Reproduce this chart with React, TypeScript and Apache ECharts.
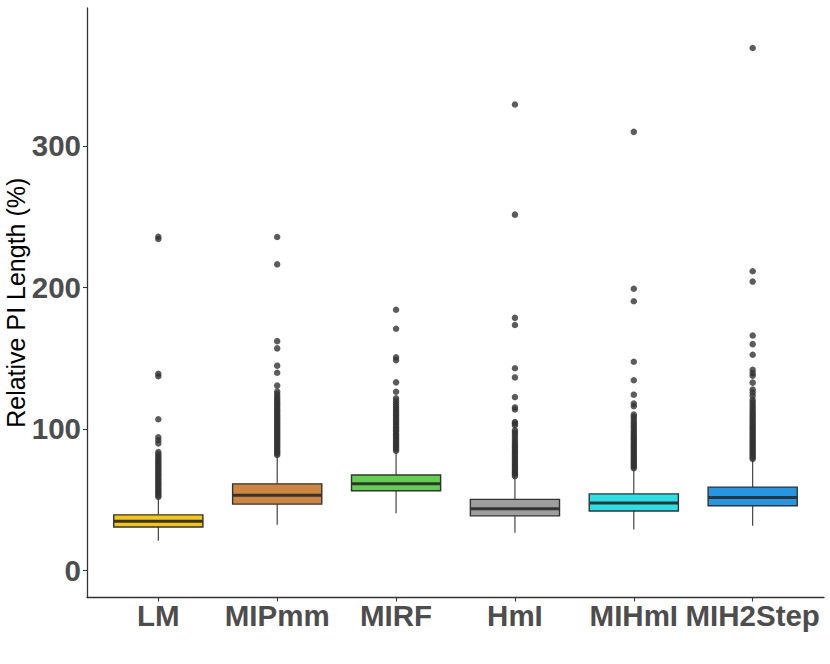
import React, { useEffect, useRef } from "react";
import * as echarts from "echarts";

const categories = ["LM", "MIPmm", "MIRF", "HmI", "MIHmI", "MIH2Step"];
const boxColors = ["#F5C710", "#CD853F", "#61D04F", "#9E9E9E", "#28E2E5", "#2297E6"];

// [lower whisker, Q1, median, Q3, upper whisker]
const boxLM = [21.0, 30.7, 34.7, 39.3, 51.3];
const boxMIPmm = [32.3, 46.9, 53.2, 61.2, 80.9];
const boxMIRF = [40.5, 56.3, 61.2, 67.5, 83.3];
const boxHmI = [26.7, 38.6, 43.6, 50.2, 66.1];
const boxMIHmI = [29.0, 42.0, 47.6, 54.1, 71.4];
const boxMIH2Step = [31.6, 45.7, 51.6, 58.9, 78.4];

const outLM = [52.0, 53.2, 54.5, 55.6, 56.8, 58.0, 59.3, 60.5, 61.7, 63.0, 64.2, 65.4, 66.7, 68.0, 69.1, 70.4, 71.6, 72.9, 74.1, 75.4, 76.6, 77.9, 79.2, 80.5, 82.0, 83.6, 89.8, 92.0, 94.1, 106.8, 137.2, 139.0, 234.2, 235.8];
const outMIPmm = [81.6, 82.8, 84.0, 85.2, 86.5, 87.7, 89.0, 90.2, 91.4, 92.7, 94.0, 95.2, 96.5, 97.7, 99.0, 100.2, 101.5, 102.8, 104.0, 105.3, 106.6, 107.8, 109.1, 110.4, 111.7, 113.0, 114.3, 115.6, 117.0, 118.4, 119.8, 121.3, 122.9, 124.6, 126.4, 130.6, 139.7, 144.7, 156.9, 162.0, 216.3, 235.6];
const outMIRF = [84.6, 85.8, 87.0, 88.2, 89.4, 90.6, 91.9, 93.1, 94.3, 95.6, 96.8, 98.1, 99.3, 100.6, 101.8, 103.1, 104.4, 105.6, 106.9, 108.2, 109.5, 110.8, 112.2, 113.6, 115.0, 116.5, 118.1, 119.8, 121.7, 126.3, 132.9, 148.6, 150.6, 170.8, 184.2];
const outHmI = [66.7, 67.9, 69.1, 70.3, 71.5, 72.8, 74.0, 75.2, 76.5, 77.7, 79.0, 80.2, 81.5, 82.8, 84.1, 85.4, 86.8, 88.2, 89.6, 91.1, 92.7, 94.4, 96.1, 97.6, 99.0, 102.6, 103.9, 104.9, 113.7, 115.2, 122.5, 136.4, 142.9, 173.4, 178.5, 251.4, 329.2];
const outMIHmI = [72.2, 73.4, 74.6, 75.8, 77.0, 78.2, 79.5, 80.7, 81.9, 83.2, 84.4, 85.7, 87.0, 88.2, 89.5, 90.8, 92.1, 93.4, 94.7, 96.1, 97.5, 98.9, 100.4, 101.9, 103.5, 105.1, 106.8, 108.5, 110.1, 116.0, 117.9, 124.2, 134.4, 147.5, 190.2, 199.0, 309.9];
const outMIH2Step = [78.8, 80.0, 81.2, 82.4, 83.6, 84.8, 86.0, 87.3, 88.5, 89.7, 91.0, 92.2, 93.5, 94.7, 96.0, 97.3, 98.6, 99.9, 101.2, 102.5, 103.8, 105.2, 106.6, 108.0, 109.4, 110.9, 112.4, 114.0, 115.6, 117.3, 119.0, 120.6, 123.4, 125.8, 127.8, 132.7, 137.6, 139.4, 141.8, 152.4, 159.9, 166.0, 204.1, 211.4, 369.1];

const yTicks = [0, 100, 200, 300];
const xTicks = [0, 1, 2, 3, 4, 5];

const boxes = [boxLM, boxMIPmm, boxMIRF, boxHmI, boxMIHmI, boxMIH2Step];
const outliers = [outLM, outMIPmm, outMIRF, outHmI, outMIHmI, outMIH2Step];

const FONT = "'Liberation Sans', Arial, Helvetica, sans-serif";
const INK = "#333333";

export default function App() {
  const ref = useRef<HTMLDivElement>(null);
  useEffect(() => {
    if (!ref.current) return;
    const chart = echarts.init(ref.current, undefined, { renderer: "svg" });
    const boxData = boxes.map((b, i) => [i, ...b]);
    const outData: number[][] = [];
    outliers.forEach((arr, i) => arr.forEach((v) => outData.push([i, v])));

    chart.setOption({
      animation: false,
      backgroundColor: "#ffffff",
      grid: { left: 87, right: 6, top: 8, bottom: 66.5, containLabel: false, outerBoundsMode: "none" },
      xAxis: {
        type: "value",
        min: -0.6,
        max: 5.6,
        splitLine: { show: false },
        axisLine: { show: true, onZero: false, lineStyle: { color: INK, width: 1.3 } },
        axisTick: { show: true, customValues: xTicks, length: 4, lineStyle: { color: INK, width: 1.1 } },
        axisLabel: {
          customValues: xTicks,
          formatter: (v: number) => categories[Math.round(v)] ?? "",
          color: "#4D4D4D",
          fontSize: 29.5,
          fontWeight: "bold",
          fontFamily: FONT,
          margin: 3,
        },
      },
      yAxis: {
        type: "value",
        min: -19.1,
        max: 397.4,
        splitLine: { show: false },
        axisLine: { show: true, onZero: false, lineStyle: { color: INK, width: 1.3 } },
        axisTick: { show: true, customValues: yTicks, length: 4, lineStyle: { color: INK, width: 1.1 } },
        axisLabel: {
          customValues: yTicks,
          color: "#4D4D4D",
          fontSize: 29.5,
          fontWeight: "bold",
          fontFamily: FONT,
          margin: 6,
        },
        name: "Relative PI Length (%)",
        nameLocation: "middle",
        nameRotate: 90,
        nameGap: 59,
        nameMoveOverlap: false,
        nameTextStyle: { color: "#000000", fontSize: 25, fontFamily: FONT },
      },
      series: [
        {
          type: "custom",
          data: boxData,
          encode: { x: 0, y: [1, 2, 3, 4, 5] },
          renderItem: (params: any, api: any) => {
            const i = api.value(0);
            const pLow = api.coord([i, api.value(1)]);
            const pQ1 = api.coord([i, api.value(2)]);
            const pMed = api.coord([i, api.value(3)]);
            const pQ3 = api.coord([i, api.value(4)]);
            const pHigh = api.coord([i, api.value(5)]);
            const half = api.size([0.75, 0])[0] / 2;
            const cx = pMed[0];
            return {
              type: "group",
              children: [
                { type: "line", shape: { x1: cx, y1: pLow[1], x2: cx, y2: pQ1[1] }, style: { stroke: INK, lineWidth: 1.1 } },
                { type: "line", shape: { x1: cx, y1: pQ3[1], x2: cx, y2: pHigh[1] }, style: { stroke: INK, lineWidth: 1.1 } },
                {
                  type: "rect",
                  shape: { x: cx - half, y: pQ3[1], width: half * 2, height: pQ1[1] - pQ3[1] },
                  style: { fill: boxColors[i], stroke: INK, lineWidth: 1.4 },
                },
                { type: "line", shape: { x1: cx - half, y1: pMed[1], x2: cx + half, y2: pMed[1] }, style: { stroke: INK, lineWidth: 3 } },
              ],
            };
          },
        },
        {
          type: "scatter",
          data: outData,
          symbol: "circle",
          symbolSize: 6.5,
          itemStyle: { color: INK },
        },
      ],
    });
    return () => chart.dispose();
  }, []);
  return <div ref={ref} style={{ position: "fixed", left: 0, top: 0, width: 830, height: 664 }} />;
}
